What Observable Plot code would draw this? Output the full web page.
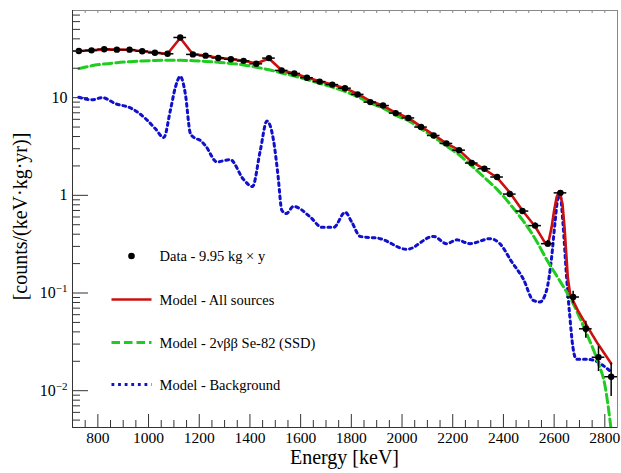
<!DOCTYPE html>
<html>
<head>
<meta charset="utf-8">
<script src="https://cdn.jsdelivr.net/npm/d3@7"></script>
<script src="https://cdn.jsdelivr.net/npm/@observablehq/plot@0.6"></script>
<style>
  body { margin: 0; background: #fff; }
  #chart svg { display: block; }
</style>
</head>
<body>
<div id="chart"></div>
<script>
// Measured spectrum: 50 keV bins (bin centres), rate in counts/(keV·kg·yr)
const binCentres = [725, 775, 825, 875, 925, 975, 1025, 1075, 1125, 1175,
  1225, 1275, 1325, 1375, 1425, 1475, 1525, 1575, 1625, 1675,
  1725, 1775, 1825, 1875, 1925, 1975, 2025, 2075, 2125, 2175,
  2225, 2275, 2325, 2375, 2425, 2475, 2525, 2575, 2625, 2675,
  2725, 2775, 2825];
const rates = [30.0, 30.5, 31.3, 31.0, 31.0, 29.9, 28.8, 28.1, 41.3, 27.7,
  26.9, 25.5, 24.7, 23.8, 22.2, 25.4, 19.0, 17.7, 16.0, 14.6,
  13.6, 12.5, 10.8, 9.0, 8.3, 6.95, 6.2, 5.0, 4.1, 3.4,
  2.9, 2.14, 1.87, 1.54, 1.03, 0.69, 0.49, 0.32, 1.06, 0.091,
  0.043, 0.022, 0.0139];
const rateErrors = [0.25, 0.25, 0.25, 0.25, 0.25, 0.25, 0.24, 0.24, 0.29, 0.24,
  0.23, 0.23, 0.22, 0.22, 0.21, 0.23, 0.2, 0.19, 0.18, 0.17,
  0.17, 0.16, 0.15, 0.13, 0.13, 0.12, 0.11, 0.1, 0.09, 0.08,
  0.076, 0.066, 0.061, 0.056, 0.046, 0.037, 0.031, 0.025, 0.046, 0.0135,
  0.0085, 0.0063, 0.0052];
const binHalfWidth = 25;

// Full model (all sources)
const modelAllEnergy = [725, 775, 825, 875, 925, 975, 1025, 1075, 1125, 1175,
  1225, 1275, 1325, 1375, 1425, 1475, 1525, 1575, 1625, 1675,
  1725, 1775, 1825, 1875, 1925, 1975, 2025, 2075, 2125, 2175,
  2225, 2275, 2325, 2375, 2425, 2475, 2525, 2550, 2566, 2578,
  2590, 2600, 2610, 2620, 2633, 2641, 2648, 2654, 2663, 2674,
  2694, 2721, 2773, 2825];
const modelAllRate = [30.0, 30.5, 31.2, 31.0, 30.9, 29.9, 28.9, 28.1, 40.8, 27.8,
  26.9, 25.6, 24.8, 23.9, 22.4, 25.2, 19.1, 17.7, 16.1, 14.7,
  13.6, 12.5, 10.9, 9.2, 8.3, 7.0, 6.2, 5.05, 4.15, 3.4,
  2.9, 2.2, 1.85, 1.52, 1.07, 0.7, 0.48, 0.375, 0.32, 0.335,
  0.47, 0.7, 0.96, 1.1, 0.82, 0.47, 0.25, 0.144, 0.098, 0.084,
  0.066, 0.05, 0.03, 0.019];

// 2νββ Se-82 (SSD) component
const ssdEnergy = [725, 775, 825, 875, 925, 975, 1025, 1075, 1125, 1175,
  1225, 1275, 1325, 1375, 1425, 1475, 1525, 1575, 1625, 1675,
  1725, 1775, 1825, 1875, 1925, 1975, 2025, 2075, 2125, 2175,
  2225, 2275, 2325, 2375, 2425, 2475, 2525, 2575, 2625, 2675,
  2725, 2775, 2800, 2825];
const ssdRate = [19.8, 21.2, 22.1, 22.8, 23.3, 23.7, 24.0, 24.1, 24.1, 23.9,
  23.5, 23.0, 22.4, 21.6, 20.5, 19.3, 17.9, 16.6, 15.3, 14.0,
  12.8, 11.6, 10.2, 8.8, 7.8, 6.6, 5.8, 4.8, 3.95, 3.2,
  2.6, 2.0, 1.52, 1.15, 0.82, 0.56, 0.36, 0.21, 0.13, 0.078,
  0.04, 0.019, 0.0115, 0.004];

// Background component
const bkgEnergy = [725, 778, 817, 869, 935, 988, 1027, 1060, 1086, 1106,
  1125, 1145, 1165, 1180, 1204, 1224, 1270, 1322, 1375, 1410,
  1441, 1467, 1493, 1510, 1526, 1543, 1572, 1638, 1684, 1730,
  1776, 1802, 1835, 1914, 2019, 2124, 2176, 2216, 2268, 2347,
  2386, 2432, 2478, 2518, 2544, 2570, 2590, 2603, 2616, 2624,
  2635, 2648, 2662, 2674, 2688, 2728, 2767, 2807, 2826];
const bkgRate = [10.1, 9.5, 10.0, 8.7, 7.7, 6.1, 4.8, 3.9, 7.4, 12.8,
  16.5, 11.0, 4.3, 3.9, 3.65, 3.24, 2.2, 2.32, 1.45, 1.23,
  2.89, 5.76, 3.66, 1.66, 0.7, 0.65, 0.77, 0.6, 0.47, 0.47,
  0.67, 0.53, 0.38, 0.36, 0.28, 0.38, 0.32, 0.35, 0.32, 0.36,
  0.32, 0.21, 0.14, 0.084, 0.081, 0.106, 0.23, 0.51, 0.96, 1.0,
  0.51, 0.16, 0.057, 0.028, 0.021, 0.021, 0.02, 0.017, 0.0155];

const legendLabels = ["Data - 9.95 kg \u00d7 y", "Model - All sources",
  "Model - 2\u03bd\u03b2\u03b2 Se-82 (SSD)", "Model - Background"];

const xTickValues = [800, 1000, 1200, 1400, 1600, 1800, 2000, 2200, 2400, 2600, 2800];
const yTickValues = [0.01, 0.1, 1, 10];

const colors = {all: "#cc1010", ssd: "#1fcc1f", bkg: "#1010cc"};

// ---- layout ----
const W = 621, H = 473;
const mTop = 10, mRight = 4, mBottom = 46, mLeft = 72;
const plotW = W - mLeft - mRight;
const plotH = H - mTop - mBottom;
const xDomain = [700, 2850];
const yDomain = [0.0042, 78];

const data = binCentres.map((e, i) => ({e, v: rates[i], err: rateErrors[i]}));
const modelAll = modelAllEnergy.map((e, i) => ({e, v: modelAllRate[i]}));
const ssd = ssdEnergy.map((e, i) => ({e, v: ssdRate[i]}));
const bkg = bkgEnergy.map((e, i) => ({e, v: bkgRate[i]}));

// minor ticks: every 50 keV on x, 2..9 per decade on y
const xMinor = d3.range(750, 2851, 50).filter(v => !xTickValues.includes(v));
const yMinor = [];
for (const dec of [0.001, 0.01, 0.1, 1, 10]) {
  for (let k = 2; k <= 9; k++) {
    const v = +(k * dec).toPrecision(3);
    if (v > yDomain[0] && v < yDomain[1]) yMinor.push(v);
  }
}

const yTickFormat = d => d >= 1 ? String(d) : "10^" + Math.round(Math.log10(d));

const chart = Plot.plot({
  width: W,
  height: H,
  marginTop: mTop,
  marginRight: mRight,
  marginBottom: mBottom,
  marginLeft: mLeft,
  x: {type: "linear", domain: xDomain},
  y: {type: "log", domain: yDomain},
  style: {fontFamily: "'Liberation Serif', 'Times New Roman', serif", background: "#fff", color: "#000"},
  marks: [
    Plot.line(bkg, {x: "e", y: "v", stroke: colors.bkg, strokeWidth: 3, strokeDasharray: "2.8,3.8", curve: "monotone-x", clip: true}),
    Plot.line(ssd, {x: "e", y: "v", stroke: colors.ssd, strokeWidth: 3, strokeDasharray: "8.5,4", curve: "monotone-x", clip: true}),
    Plot.line(modelAll, {x: "e", y: "v", stroke: colors.all, strokeWidth: 2.6, clip: true}),
    Plot.ruleX(data, {x: "e", y1: d => d.v - d.err, y2: d => d.v + d.err, stroke: "#000", strokeWidth: 1.5}),
    Plot.ruleY(data, {y: "v", x1: d => d.e - binHalfWidth, x2: d => d.e + binHalfWidth, stroke: "#000", strokeWidth: 1.5}),
    Plot.dot(data, {x: "e", y: "v", r: 3.2, fill: "#000", stroke: "none"}),
    // inward ticks
    Plot.tickY(yTickValues, {y: d => d, insetRight: plotW - 16, stroke: "#333"}),
    Plot.tickY(yMinor, {y: d => d, insetRight: plotW - 8, stroke: "#333"}),
    Plot.tickX(xTickValues, {x: d => d, insetTop: plotH - 13, stroke: "#333"}),
    Plot.tickX(xMinor, {x: d => d, insetTop: plotH - 7, stroke: "#333"}),
    Plot.tickX(xTickValues.concat(xMinor), {x: d => d, insetBottom: plotH - 3, stroke: "#888"}),
    Plot.frame({stroke: "#888"}),
    Plot.ruleX([xDomain[0]], {stroke: "#333"}),
    Plot.ruleY([yDomain[0]], {stroke: "#333"}),
    Plot.axisX({ticks: xTickValues, tickSize: 0, tickPadding: 4, fontSize: 15.5, tickFormat: d => String(d), label: null}),
    Plot.axisY({ticks: yTickValues, tickSize: 0, tickPadding: 5, fontSize: 16, tickFormat: yTickFormat, label: null})
  ]
});

document.getElementById("chart").appendChild(chart);
const svg = d3.select(chart);

// powers of ten as real superscripts
svg.selectAll('g[aria-label="y-axis tick label"] text').each(function () {
  const t = d3.select(this);
  const s = t.text();
  if (s.includes("^")) {
    const [base, exp] = s.split("^");
    t.text(null);
    t.append("tspan").text(base);
    t.append("tspan").attr("dy", "-0.55em").attr("font-size", "11px").text(exp.replace("-", "\u2212"));
  }
});

// axis titles
svg.append("text")
  .attr("x", mLeft + plotW / 2).attr("y", 464)
  .attr("text-anchor", "middle").attr("font-size", 20)
  .text("Energy [keV]");
svg.append("text")
  .attr("transform", `translate(27,${mTop + plotH / 2 - 2}) rotate(-90)`)
  .attr("text-anchor", "middle").attr("font-size", 20)
  .text("[counts/(keV\u00b7kg\u00b7yr)]");

// legend
const lg = svg.append("g").attr("font-size", 14.5).attr("text-anchor", "start");
const rowsY = [256, 299.5, 342.5, 384.5];
const swatchX1 = 111.5, swatchX2 = 151.5, textX = 159.5;
lg.append("circle").attr("cx", 131.5).attr("cy", rowsY[0]).attr("r", 3.3).attr("fill", "#000");
lg.append("line").attr("x1", swatchX1).attr("x2", swatchX2).attr("y1", rowsY[1]).attr("y2", rowsY[1])
  .attr("stroke", colors.all).attr("stroke-width", 2.6);
lg.append("line").attr("x1", swatchX1).attr("x2", swatchX2).attr("y1", rowsY[2]).attr("y2", rowsY[2])
  .attr("stroke", colors.ssd).attr("stroke-width", 3).attr("stroke-dasharray", "8.5,4");
lg.append("line").attr("x1", swatchX1).attr("x2", swatchX2).attr("y1", rowsY[3]).attr("y2", rowsY[3])
  .attr("stroke", colors.bkg).attr("stroke-width", 3).attr("stroke-dasharray", "2.8,3.8");
legendLabels.forEach((label, i) => {
  lg.append("text").attr("x", textX).attr("y", rowsY[i] + 5).attr("text-anchor", "start").text(label);
});
</script>
</body>
</html>
